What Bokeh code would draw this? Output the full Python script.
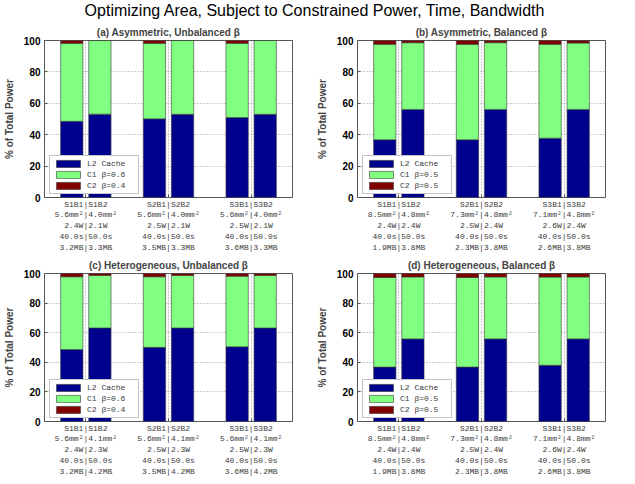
from bokeh.plotting import figure
from bokeh.models import ColumnDataSource, Div, FixedTicker, Range1d
from bokeh.layouts import column, row
from bokeh.embed import file_html
from bokeh.resources import INLINE

# ---------------- data ----------------
main_title = "Optimizing Area, Subject to Constrained Power, Time, Bandwidth"
panel_titles = ["(a) Asymmetric, Unbalanced β", "(b) Asymmetric, Balanced β",
                "(c) Heterogeneous, Unbalanced β", "(d) Heterogeneous, Balanced β"]
groups = [1, 2, 3]            # S1, S2, S3
configs = ["B1", "B2"]

# bar order: S1B1, S1B2, S2B1, S2B2, S3B1, S3B2
l2_a = [48.5, 53.1, 50.1, 53.0, 50.9, 53.0]
c1_a = [49.7, 46.9, 48.1, 47.0, 47.3, 47.0]
c2_a = [1.8, 0.0, 1.8, 0.0, 1.8, 0.0]

l2_b = [36.8, 56.1, 36.8, 56.1, 37.8, 56.1]
c1_b = [60.8, 42.5, 60.8, 42.5, 59.8, 42.3]
c2_b = [2.4, 1.4, 2.4, 1.4, 2.4, 1.6]

l2_c = [48.6, 63.2, 50.1, 63.2, 50.5, 63.2]
c1_c = [49.2, 35.5, 47.7, 35.5, 47.7, 35.5]
c2_c = [2.2, 1.3, 2.2, 1.3, 1.8, 1.3]

l2_d = [36.8, 55.8, 36.8, 55.8, 38.0, 55.8]
c1_d = [60.5, 41.9, 60.5, 41.9, 59.6, 41.9]
c2_d = [2.7, 2.3, 2.7, 2.3, 2.4, 2.3]

legend_unbal = ["L2 Cache", "C1 β=0.6", "C2 β=0.4"]
legend_bal = ["L2 Cache", "C1 β=0.5", "C2 β=0.5"]

ticks_a = [["S1B1|S1B2", "5.6mm²|4.0mm²", "2.4W|2.1W", "40.0s|50.0s", "3.2MB|3.3MB"],
           ["S2B1|S2B2", "5.6mm²|4.0mm²", "2.5W|2.1W", "40.0s|50.0s", "3.5MB|3.3MB"],
           ["S3B1|S3B2", "5.6mm²|4.0mm²", "2.5W|2.1W", "40.0s|50.0s", "3.6MB|3.3MB"]]
ticks_b = [["S1B1|S1B2", "8.5mm²|4.8mm²", "2.4W|2.4W", "40.0s|50.0s", "1.9MB|3.8MB"],
           ["S2B1|S2B2", "7.3mm²|4.8mm²", "2.5W|2.4W", "40.0s|50.0s", "2.3MB|3.8MB"],
           ["S3B1|S3B2", "7.1mm²|4.8mm²", "2.6W|2.4W", "40.0s|50.0s", "2.6MB|3.8MB"]]
ticks_c = [["S1B1|S1B2", "5.6mm²|4.1mm²", "2.4W|2.3W", "40.0s|50.0s", "3.2MB|4.2MB"],
           ["S2B1|S2B2", "5.6mm²|4.1mm²", "2.5W|2.3W", "40.0s|50.0s", "3.5MB|4.2MB"],
           ["S3B1|S3B2", "5.6mm²|4.1mm²", "2.5W|2.3W", "40.0s|50.0s", "3.6MB|4.2MB"]]
ticks_d = [["S1B1|S1B2", "8.5mm²|4.8mm²", "2.4W|2.4W", "40.0s|50.0s", "1.9MB|3.8MB"],
           ["S2B1|S2B2", "7.3mm²|4.8mm²", "2.5W|2.4W", "40.0s|50.0s", "2.3MB|3.8MB"],
           ["S3B1|S3B2", "7.1mm²|4.8mm²", "2.6W|2.4W", "40.0s|50.0s", "2.6MB|3.8MB"]]

y_ticks = [0, 20, 40, 60, 80, 100]

# ---------------- style ----------------
COLORS = ["#00008F", "#80FF80", "#800000"]
OFFSET = 0.17
BAR_W = 0.27
MONO = "Liberation Mono"
SANS = "Liberation Sans"


def panel(title, l2, c1, c2, ticks, legend_labels, width, border_right, height, border_top, border_bottom):
    xs = []
    for g in groups:
        for i, _ in enumerate(configs):
            xs.append(g - OFFSET if i == 0 else g + OFFSET)
    src = ColumnDataSource(dict(x=xs, l2=l2, c1=c1, c2=c2))
    p = figure(width=width, height=height, x_range=Range1d(0.5, 3.5), y_range=Range1d(0, 100),
               output_backend="svg", toolbar_location=None,
               min_border_left=41, min_border_right=border_right,
               min_border_top=border_top, min_border_bottom=border_bottom)
    p.vbar_stack(["l2", "c1", "c2"], x="x", width=BAR_W, source=src, fill_color=COLORS,
                 line_color="#3a3a3a", line_width=0.6, legend_label=legend_labels)

    p.title.text = title
    p.title.align = "center"
    p.title.text_font = SANS
    p.title.text_font_size = "10px"
    p.title.text_font_style = "bold"
    p.title.standoff = 6
    p.title.offset = 0

    p.outline_line_color = "#555555"
    p.outline_line_width = 1

    for ax in (p.xaxis, p.yaxis):
        ax.axis_line_color = None
        ax.major_tick_in = 3
        ax.major_tick_out = 0
        ax.minor_tick_line_color = None
        ax.major_tick_line_color = "#555555"

    p.xaxis.ticker = FixedTicker(ticks=groups)
    p.xaxis.major_label_overrides = {g: "\n".join(t) for g, t in zip(groups, ticks)}
    p.xaxis.major_label_text_font = MONO
    p.xaxis.major_label_text_font_size = "8px"
    p.xaxis.major_label_text_color = "#3c3c3c"
    p.xaxis.major_label_standoff = 2
    p.xaxis.major_label_text_line_height = 1.2

    p.yaxis.ticker = FixedTicker(ticks=y_ticks)
    p.yaxis.major_label_text_font = SANS
    p.yaxis.major_label_text_font_size = "10px"
    p.yaxis.major_label_text_font_style = "bold"
    p.yaxis.major_label_text_color = "black"
    p.yaxis.major_label_standoff = 4
    p.yaxis.axis_label = "% of Total Power"
    p.yaxis.axis_label_text_font = SANS
    p.yaxis.axis_label_text_font_size = "10px"
    p.yaxis.axis_label_text_font_style = "bold"
    p.yaxis.axis_label_standoff = 6

    for gr in (p.xgrid, p.ygrid):
        gr.grid_line_color = "#9a9a9a"
        gr.grid_line_dash = "1 2"
        gr.grid_line_width = 1

    lg = p.legend[0]
    lg.location = (5, 3)
    lg.margin = 0
    lg.padding = 3
    lg.spacing = 2
    lg.glyph_width = 30
    lg.glyph_height = 9
    lg.label_height = 9
    lg.label_width = 48
    lg.label_standoff = 4
    lg.label_text_font = MONO
    lg.label_text_font_size = "8px"
    lg.label_text_color = "#3c3c3c"
    lg.border_line_color = "#8a8a8a"
    lg.border_line_width = 1
    lg.background_fill_alpha = 1.0
    return p


W_LEFT, W_RIGHT = 313, 306
pa = panel(panel_titles[0], l2_a, c1_a, c2_a, ticks_a, legend_unbal, W_LEFT, 21, 233, 19, 51)
pb = panel(panel_titles[1], l2_b, c1_b, c2_b, ticks_b, legend_bal, W_RIGHT, 14, 233, 19, 51)
pc = panel(panel_titles[2], l2_c, c1_c, c2_c, ticks_c, legend_unbal, W_LEFT, 21, 224, 18, 49)
pd = panel(panel_titles[3], l2_d, c1_d, c2_d, ticks_d, legend_bal, W_RIGHT, 14, 224, 18, 49)

title_div = Div(text=main_title, width=619, height=11,
                styles={"font-family": "Liberation Sans, Arial, sans-serif", "font-size": "16px",
                        "text-align": "center", "line-height": "11px", "color": "black"})

layout = column(title_div, row(pa, pb), row(pc, pd))

open("out.html", "w").write(file_html(layout, INLINE))
